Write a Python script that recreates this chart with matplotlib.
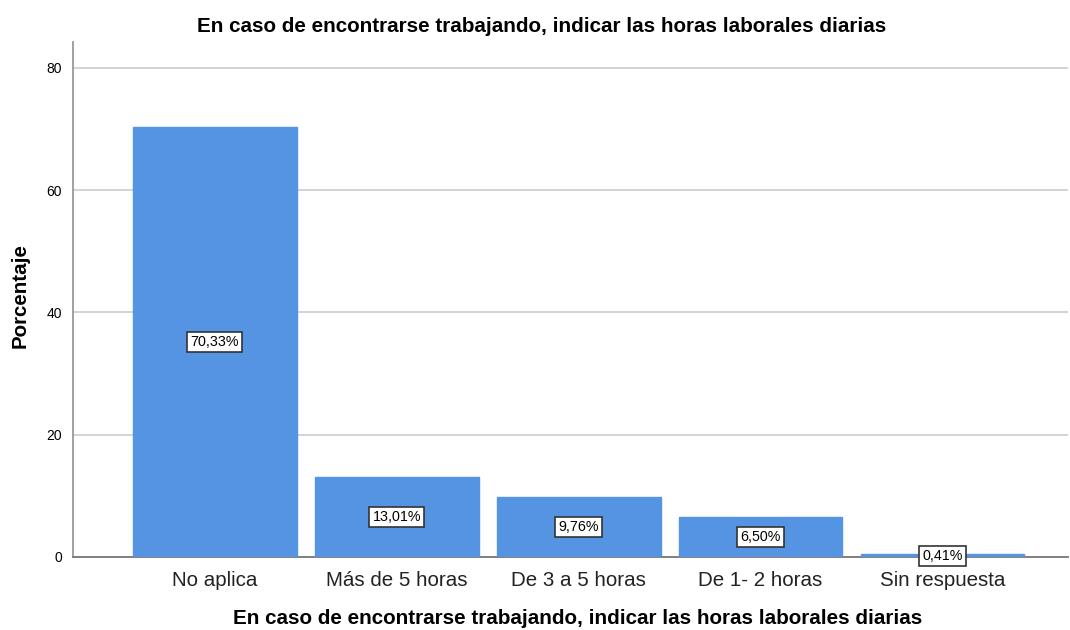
import matplotlib
matplotlib.use("Agg")
import matplotlib.pyplot as plt

plt.rcParams['font.family'] = ['Liberation Sans', 'DejaVu Sans']

categories = ["No aplica", "Más de 5 horas", "De 3 a 5 horas", "De 1- 2 horas", "Sin respuesta"]
values = [70.33, 13.01, 9.76, 6.50, 0.41]
labels = ["70,33%", "13,01%", "9,76%", "6,50%", "0,41%"]
yticks = [0, 20, 40, 60, 80]
title = "En caso de encontrarse trabajando, indicar las horas laborales diarias"

fig = plt.figure(figsize=(10.7, 6.3), dpi=100)
ax = fig.add_axes([73/1070, 73/630, (1068-73)/1070, (557-42)/630])

x = list(range(len(categories)))
ax.bar(x, values, width=0.9, color="#5594E3", edgecolor="#5594E3", zorder=3)
for xi, v, lab in zip(x, values, labels):
    ax.text(xi, v/2, lab, ha="center", va="center", fontsize=10.3, zorder=5,
            bbox=dict(boxstyle="square,pad=0.22", facecolor="white", edgecolor="#333333", linewidth=1.2))

ax.set_xlim(-0.78, 4.69)
ax.set_ylim(0, 84.25)
ax.set_yticks(yticks)
ax.set_yticklabels([str(t) for t in yticks], fontsize=10)
ax.set_xticks(x)
ax.set_xticklabels(categories, fontsize=14.8, color="#222222")
ax.tick_params(axis="both", length=0)
ax.tick_params(axis="x", pad=10)
ax.tick_params(axis="y", pad=8)
ax.grid(axis="y", color="#d0d0d0", linewidth=1.3, zorder=0)
for s in ["top", "right"]:
    ax.spines[s].set_visible(False)
ax.spines["left"].set_color("#999999")
ax.spines["left"].set_linewidth(1.3)
ax.spines["bottom"].set_color("#777777")
ax.spines["bottom"].set_linewidth(1.3)

ax.set_ylabel("Porcentaje", fontsize=14.8, fontweight="bold")
ax.yaxis.set_label_coords(-43/995, (557-296)/515)
fig.text(0.5 + 43/1070, 1 - 619/630, title, ha="center", va="center", fontsize=14.9, fontweight="bold")
fig.text(0.5 + 7/1070, 1 - 27/630, title, ha="center", va="center", fontsize=14.9, fontweight="bold")

fig.savefig("out.png", dpi=100, facecolor="white")
